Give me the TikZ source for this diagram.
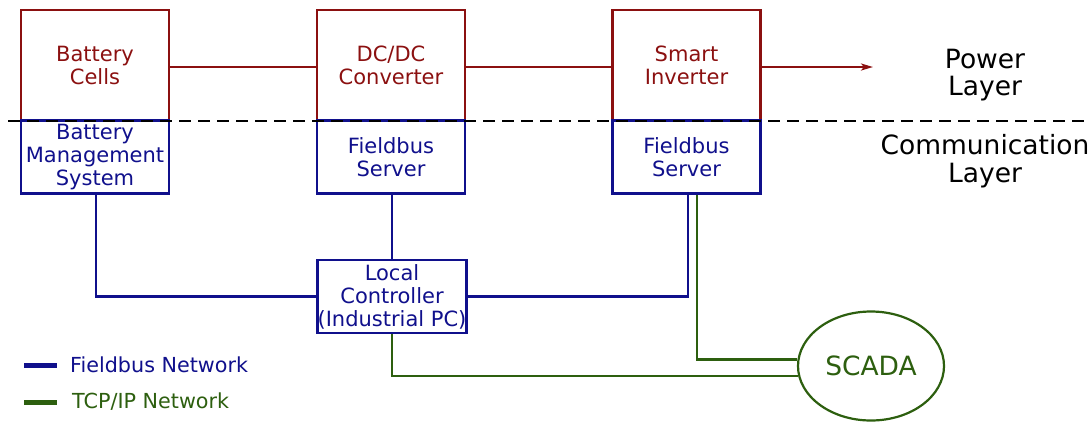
\documentclass[tikz,border=0pt]{standalone}
\usepackage{fontspec}
\setmainfont{DejaVu Sans}
\usetikzlibrary{shapes.geometric,arrows.meta}
\definecolor{pred}{RGB}{139,16,16}
\definecolor{fblue}{RGB}{16,16,140}
\definecolor{tgreen}{RGB}{45,95,15}
\tikzset{
  boxtext/.style={font=\fontsize{21}{23}\selectfont, align=center},
  pbox/.style={draw=pred, line width=2.4pt, text=pred, minimum width=148pt, minimum height=110pt, inner sep=0pt, boxtext},
  cbox/.style={draw=fblue, line width=2.4pt, text=fblue, minimum width=148pt, minimum height=73pt, inner sep=0pt, boxtext},
  layertext/.style={font=\fontsize{26.5}{27.5}\selectfont, align=center},
  pline/.style={draw=pred, line width=2pt},
  fline/.style={draw=fblue, line width=2.2pt},
  tline/.style={draw=tgreen, line width=2.2pt},
  legtext/.style={font=\fontsize{20.7}{23}\selectfont, anchor=west, inner sep=0pt}
}
\begin{document}
\begin{tikzpicture}[x=1pt,y=-1pt]
\useasboundingbox (0,0) rectangle (1091,421);
% power layer
\node[pbox] (bc) at (95,65) {Battery\\Cells};
\node[pbox] (dc) at (391,65) {DC/DC\\Converter};
\node[pbox] (si) at (686.5,65) {Smart\\Inverter};
% communication layer
\node[cbox] (bms) at (95,157) {Battery\\Management\\System};
\node[cbox] (fs1) at (391,157) {Fieldbus\\Server};
\node[cbox] (fs2) at (686.5,157) {Fieldbus\\Server};
\node[cbox] (lc) at (392,296.5) {Local\\Controller\\(Industrial PC)};
\node[ellipse, draw=tgreen, line width=2.2pt, text=tgreen, minimum width=146pt, minimum height=109pt, inner sep=0pt, font=\fontsize{26.5}{28}\selectfont] (scada) at (871,366) {SCADA};
% layer labels
\node[layertext] (pl) at (985,75) {Power\\Layer};
\node[layertext] (cl) at (985,161) {Communication\\Layer};
% power connections
\coordinate (pout) at (873,67);
\draw[pline] (bc.east |- 0,67) -- (dc.west |- 0,67);
\draw[pline] (dc.east |- 0,67) -- (si.west |- 0,67);
\draw[pline, -{Stealth[length=12pt,width=7pt,inset=3pt]}] (si.east |- 0,67) -- (pout);
% fieldbus connections
\draw[fline] (bms.south -| 96,0) |- (lc.west);
\draw[fline] (fs1.south -| lc.north) -- (lc.north);
\draw[fline] (lc.east) -| ([xshift=1.5pt]fs2.south);
% tcp/ip connections
\draw[tline] ([xshift=10.5pt]fs2.south) |- (scada.175);
\draw[tline] (lc.south) |- (scada.188);
% layer separator
\coordinate (sepL) at (8,121);
\coordinate (sepR) at (1091,121);
\draw[black, line width=2.2pt, dash pattern=on 12pt off 7pt] (sepL) -- (sepR);
% legend
\coordinate (lb1) at (24,365); \coordinate (lb2) at (57,365);
\coordinate (lg1) at (24,402); \coordinate (lg2) at (57,402);
\draw[fblue, line width=5pt] (lb1) -- (lb2);
\draw[tgreen, line width=5pt] (lg1) -- (lg2);
\node[legtext, text=fblue] (legf) at (70,365) {Fieldbus Network};
\node[legtext, text=tgreen] (legt) at (72,402) {TCP/IP Network};
\end{tikzpicture}
\end{document}
